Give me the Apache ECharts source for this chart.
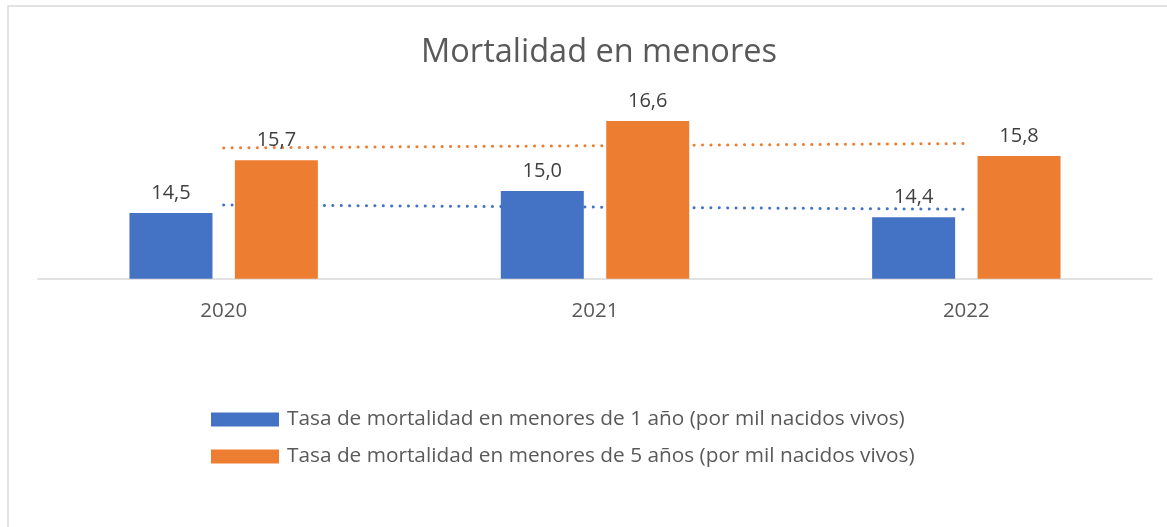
<!DOCTYPE html>
<html>
<head>
<meta charset="utf-8">
<title>Mortalidad en menores</title>
<script src="https://cdn.jsdelivr.net/npm/echarts@6/dist/echarts.min.js"></script>
<style>
  html, body { margin: 0; padding: 0; background: #fff; }
  #chart { width: 1167px; height: 527px; }
</style>
</head>
<body>
<div id="chart"></div>
<script>
var years = ['2020', '2021', '2022'];
var menores1 = [14.5, 15.0, 14.4];
var menores5 = [15.7, 16.6, 15.8];
var nombre1 = 'Tasa de mortalidad en menores de 1 año (por mil nacidos vivos)';
var nombre5 = 'Tasa de mortalidad en menores de 5 años (por mil nacidos vivos)';

// linear trend (least squares) like Excel's trendline
function trend (vals) {
  var n = vals.length, sx = 0, sy = 0, sxy = 0, sxx = 0
  vals.forEach(function (v, i) {
    sx += i; sy += v; sxy += i * v; sxx += i * i
  })
  var b = (n * sxy - sx * sy) / (n * sxx - sx * sx)
  var a = (sy - b * sx) / n
  return vals.map(function (v, i) { return a + b * i })
}

var font = '"Open Sans", "Liberation Sans", sans-serif';
var azul = '#4472C4';
var naranja = '#ED7D31';

function etiqueta (p) { return p.value.toFixed(1).replace('.', ',') }

var chart = echarts.init(document.getElementById('chart'));
chart.setOption({
  animation: false,
  textStyle: { fontFamily: font },
  graphic: [{
    type: 'rect',
    shape: { x: 8, y: 6, width: 1175, height: 540 },
    style: { fill: 'none', stroke: '#d9d9d9', lineWidth: 1.5 },
    silent: true
  }],
  title: {
    text: 'Mortalidad en menores',
    left: 594,
    textAlign: 'center',
    top: 31,
    textStyle: { fontFamily: font, fontSize: 32.5, fontWeight: 'normal', color: '#595959' }
  },
  legend: {
    orient: 'vertical',
    left: 206,
    top: 404,
    itemWidth: 68,
    itemHeight: 14,
    itemGap: 16,
    icon: 'rect',
    data: [nombre1, nombre5],
    textStyle: { fontFamily: font, fontSize: 20.8, color: '#595959', padding: [0, 0, 0, 3] }
  },
  grid: { left: 38, right: 15, top: 59.5, bottom: 248.3 },
  xAxis: {
    type: 'category',
    data: years,
    axisLine: { lineStyle: { color: '#d9d9d9', width: 1.5 } },
    axisTick: { show: false },
    axisLabel: { fontFamily: font, fontSize: 20.5, color: '#595959', margin: 22 }
  },
  yAxis: {
    type: 'value',
    min: 13,
    max: 18,
    show: false,
    splitLine: { show: false }
  },
  series: [
    {
      name: nombre1,
      type: 'bar',
      data: menores1,
      barWidth: 83,
      barGap: '27%',
      z: 3,
      itemStyle: { color: azul },
      label: {
        show: true, position: 'top', distance: 10,
        fontFamily: font, fontSize: 20, color: '#404040',
        formatter: etiqueta
      }
    },
    {
      name: nombre5,
      type: 'bar',
      data: menores5,
      barWidth: 83,
      z: 3,
      itemStyle: { color: naranja },
      label: {
        show: true, position: 'top', distance: 10,
        fontFamily: font, fontSize: 20, color: '#404040',
        formatter: etiqueta
      }
    },
    {
      name: 'Lineal 1',
      type: 'line',
      data: trend(menores1),
      symbol: 'none',
      z: 1,
      silent: true,
      lineStyle: { color: azul, width: 3, type: [0.1, 8.3], cap: 'round' }
    },
    {
      name: 'Lineal 5',
      type: 'line',
      data: trend(menores5),
      symbol: 'none',
      z: 1,
      silent: true,
      lineStyle: { color: naranja, width: 3, type: [0.1, 8.3], cap: 'round' }
    }
  ]
});
</script>
</body>
</html>
